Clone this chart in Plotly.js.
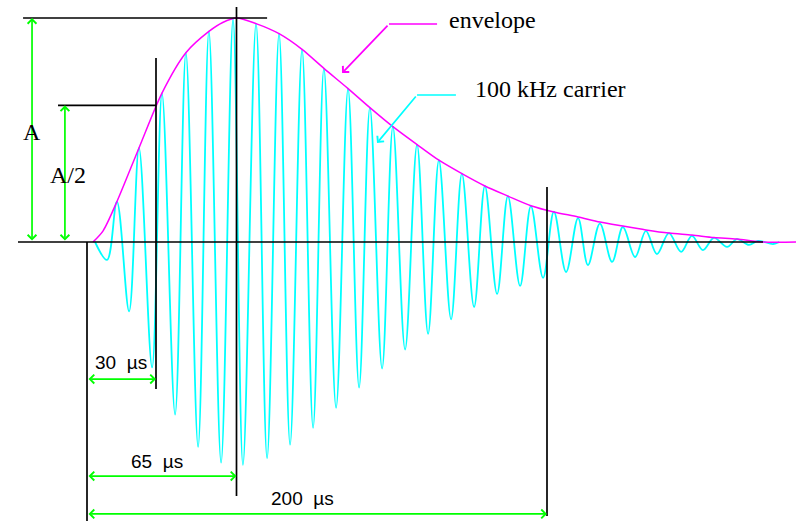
<!DOCTYPE html>
<html><head><meta charset="utf-8">
<script src="https://cdn.plot.ly/plotly-3.0.1.min.js"></script>
<style>html,body{margin:0;padding:0;background:#fff}#chart{width:796px;height:521px}</style>
</head><body><div id="chart"></div>
<script>
// Carrier extremes (time in µs, amplitude relative to A)
const peakT   = [13.0, 22.6, 32.6, 43.0, 53.0, 63.5, 73.5, 83.5, 93.5, 103.0, 113.5, 123.0, 133.0, 143.5, 153.0, 163.0, 173.0, 183.0, 193.0, 203.0, 213.5, 223.0, 233.0, 243.0, 253.0, 263.0, 272.6, 282.6, 291.7];
const peakV   = [0.18, 0.42, 0.665, 0.845, 0.94, 0.995, 0.975, 0.93, 0.86, 0.775, 0.685, 0.6, 0.515, 0.435, 0.365, 0.305, 0.25, 0.205, 0.16, 0.135, 0.107, 0.082, 0.067, 0.05, 0.04, 0.027, 0.018, 0.013, 0.005];
const troughT = [8.7, 18.3, 28.3, 38.3, 48.3, 58.3, 67.8, 78.3, 88.3, 98.3, 108.3, 118.3, 128.3, 138.3, 148.3, 158.3, 168.3, 178.3, 188.3, 198.3, 208.3, 217.8, 228.3, 238.3, 247.8, 258.3, 267.8, 278.3, 287.8, 298.3];
const troughV = [-0.08, -0.31, -0.56, -0.77, -0.915, -0.985, -0.995, -0.965, -0.905, -0.83, -0.74, -0.65, -0.565, -0.48, -0.41, -0.345, -0.29, -0.232, -0.196, -0.16, -0.134, -0.103, -0.089, -0.067, -0.054, -0.044, -0.036, -0.022, -0.013, -0.009];
const carrierStartT = 3.5, carrierEndT = 301;

// Envelope
const envT = [2.6, 7, 13, 22.6, 32.6, 43, 53, 59, 65, 73.5, 83.5, 93.5, 103, 113.5, 123, 133, 143.5, 153, 163, 173, 183, 193, 203, 213.5, 223, 233, 243, 253, 263, 272.6, 282.6, 293.9, 310];
const envA = [0, 0.05, 0.18, 0.42, 0.665, 0.845, 0.94, 0.98, 1.0, 0.975, 0.93, 0.86, 0.775, 0.685, 0.6, 0.515, 0.435, 0.365, 0.305, 0.25, 0.205, 0.162, 0.134, 0.112, 0.089, 0.071, 0.054, 0.04, 0.031, 0.02, 0.013, 0, 0];

// Marked times and labels
const spanTimes  = [30, 65, 200];
const spanLabels = ['30\u00a0 \u00b5s', '65\u00a0 \u00b5s', '200\u00a0 \u00b5s'];
const levelA = 1.0;
const levelHalf = 0.61;   // "A/2" level as drawn (envelope value at 30 µs)

// build carrier polyline
let pts = [[carrierStartT, 0]];
peakT.forEach((t, i) => pts.push([t, peakV[i]]));
troughT.forEach((t, i) => pts.push([t, troughV[i]]));
pts.push([carrierEndT, 0]);
pts.sort((a, b) => a[0] - b[0]);

const CY = '#00ffff', MG = '#ff00ff', GR = '#00ff00', BK = '#000000';

const traces = [
  {x: pts.map(p => p[0]), y: pts.map(p => p[1]), mode: 'lines', type: 'scatter',
   line: {color: CY, width: 1.8, shape: 'spline', smoothing: 1}, hoverinfo: 'skip'},
  {x: envT, y: envA, mode: 'lines', type: 'scatter',
   line: {color: MG, width: 1.5, shape: 'spline', smoothing: 0.8}, hoverinfo: 'skip'}
];

function ln(x0, y0, x1, y1, color, w) {
  return {type: 'line', x0, y0, x1, y1, xref: 'x', yref: 'y', layer: 'above',
          line: {color: color || BK, width: w || 1.7}};
}
const shapes = [
  ln(-30, 0, 293.9, 0),
  ln(-27.8, levelA, 78.3, levelA),
  ln(-12.6, levelHalf, spanTimes[0], levelHalf),
  ln(spanTimes[0], -0.656, spanTimes[0], 0.821),
  ln(spanTimes[1], -1.134, spanTimes[1], 1.049),
  ln(0, 0, 0, -1.25),
  ln(spanTimes[2], -1.223, spanTimes[2], 0.246),
  ln(131.3, 0.973, 152.2, 0.973, MG, 1.4),
  ln(143.5, 0.656, 160.4, 0.656, CY, 1.6)
];

function arrow(x, y, ax, ay, color, both) {
  return {x, y, ax, ay, xref: 'x', yref: 'y', axref: 'x', ayref: 'y', text: '',
          showarrow: true, arrowhead: 4, startarrowhead: 4, arrowsize: 1, startarrowsize: 1,
          arrowwidth: 1.7, arrowcolor: color, arrowside: both ? 'end+start' : 'end', standoff: 0, startstandoff: 0};
}
function label(x, y, text, family, size) {
  return {x, y, xref: 'x', yref: 'y', text, showarrow: false, xanchor: 'center', yanchor: 'middle',
          font: {family, size, color: '#000'}};
}
const spanY = [-0.612, -1.045, -1.214];
const spanLabelPos = [[14.8, -0.536], [30.4, -0.982], [93.5, -1.143]];
const annotations = [
  arrow(-23.9, levelA, -23.9, 0, GR, true),
  arrow(-9.6, levelHalf, -9.6, 0, GR, true),
  arrow(110.9, 0.754, 131.3, 0.973, MG, false),
  arrow(126.1, 0.442, 143.5, 0.656, CY, false),
  label(-23.9, 0.49, 'A', 'Liberation Serif', 24),
  label(-8.3, 0.30, 'A/2', 'Liberation Serif', 24),
  label(176.5, 0.99, 'envelope', 'Liberation Serif', 24),
  label(201.5, 0.683, '100 kHz carrier', 'Liberation Serif', 24)
];
spanTimes.forEach((t, i) => {
  annotations.push(arrow(t, spanY[i], 0, spanY[i], GR, true));
  annotations.push(label(spanLabelPos[i][0], spanLabelPos[i][1], spanLabels[i], 'Liberation Sans', 19));
});

const layout = {
  width: 796, height: 521,
  margin: {l: 0, r: 0, t: 0, b: 0},
  paper_bgcolor: '#fff', plot_bgcolor: '#fff',
  showlegend: false,
  xaxis: {range: [-87 / 2.3, (796 - 87) / 2.3], visible: false, fixedrange: true},
  yaxis: {range: [(242 - 521) / 224, 242 / 224], visible: false, fixedrange: true},
  shapes, annotations
};
Plotly.newPlot('chart', traces, layout, {staticPlot: true, displayModeBar: false});
</script>
</body></html>
